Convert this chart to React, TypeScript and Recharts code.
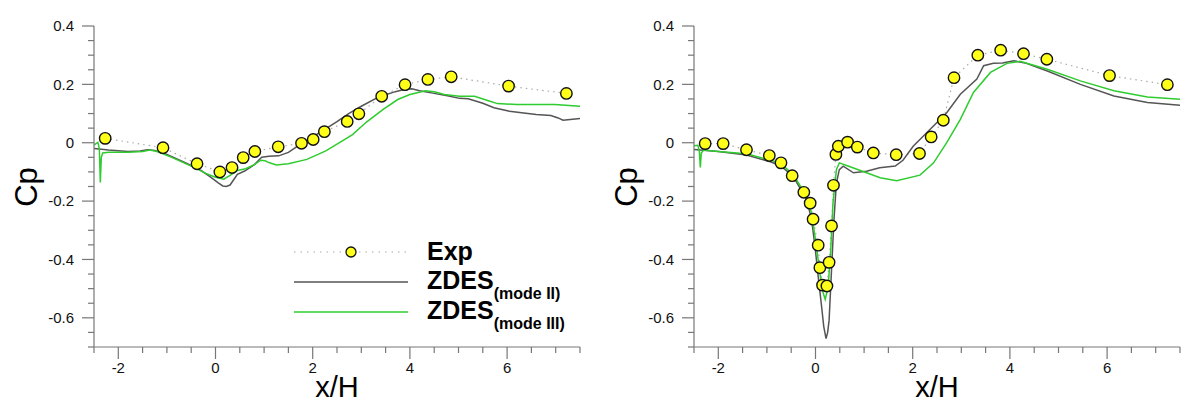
import React from 'react';
import { ComposedChart, Line, Scatter, XAxis, YAxis, Legend } from 'recharts';

const FONT = '"Liberation Sans", Arial, Helvetica, sans-serif';
const AXIS = '#777';
const GRAY = '#555';
const GREEN = '#2ecc2e';

// left panel
const leftExpX = [-2.27, -1.08, -0.38, 0.09, 0.34, 0.57, 0.81, 1.29, 1.77, 2.01, 2.24, 2.71, 2.95, 3.42, 3.9, 4.37, 4.85, 6.03, 7.22];
const leftExpY = [0.015, -0.017, -0.072, -0.1, -0.085, -0.051, -0.03, -0.014, -0.002, 0.011, 0.038, 0.073, 0.099, 0.159, 0.199, 0.217, 0.226, 0.194, 0.169];

const leftMode2X = [-2.5, -2.2, -1.8, -1.55, -1.4, -1.25, -1.0, -0.6, -0.3, -0.1, 0.05, 0.15, 0.22, 0.3, 0.45, 0.6, 0.8, 0.95, 1.1, 1.3, 1.5, 1.72, 2.0, 2.24, 2.5, 2.74, 3.0, 3.36, 3.7, 3.9, 4.04, 4.2, 4.47, 4.8, 5.02, 5.2, 5.5, 5.73, 6.05, 6.3, 6.6, 6.9, 7.05, 7.15, 7.3, 7.5];
const leftMode2Y = [-0.02, -0.025, -0.03, -0.028, -0.024, -0.027, -0.04, -0.07, -0.095, -0.118, -0.137, -0.148, -0.15, -0.145, -0.108, -0.097, -0.075, -0.05, -0.046, -0.045, -0.033, -0.008, 0.02, 0.045, 0.072, 0.1, 0.125, 0.157, 0.175, 0.183, 0.185, 0.178, 0.17, 0.16, 0.152, 0.151, 0.135, 0.12, 0.108, 0.103, 0.097, 0.093, 0.085, 0.077, 0.08, 0.083];

const leftMode3X = [-2.5, -2.46, -2.42, -2.39, -2.37, -2.35, -2.32, -2.2, -1.8, -1.5, -1.35, -1.2, -0.9, -0.5, -0.2, 0.0, 0.17, 0.3, 0.45, 0.62, 0.8, 0.93, 1.02, 1.1, 1.25, 1.5, 1.88, 2.27, 2.5, 2.82, 3.1, 3.45, 3.75, 4.0, 4.32, 4.5, 4.71, 5.02, 5.33, 5.6, 5.8, 6.2, 6.98, 7.5];
const leftMode3Y = [-0.008, -0.003, 0.001, -0.02, -0.136, -0.05, -0.035, -0.033, -0.033, -0.03, -0.025, -0.03, -0.05, -0.08, -0.105, -0.118, -0.125, -0.112, -0.095, -0.089, -0.075, -0.06, -0.062, -0.068, -0.076, -0.072, -0.057, -0.028, -0.005, 0.028, 0.07, 0.114, 0.148, 0.165, 0.178, 0.175, 0.165, 0.159, 0.159, 0.145, 0.134, 0.131, 0.131, 0.125];

// right panel
const rightExpX = [-2.27, -1.9, -1.42, -0.95, -0.71, -0.48, -0.24, -0.11, -0.05, 0.055, 0.09, 0.145, 0.235, 0.28, 0.33, 0.37, 0.42, 0.47, 0.66, 0.86, 1.19, 1.66, 2.14, 2.38, 2.63, 2.85, 3.34, 3.81, 4.28, 4.76, 6.05, 7.24];
const rightExpY = [-0.003, -0.003, -0.024, -0.044, -0.069, -0.113, -0.17, -0.207, -0.262, -0.351, -0.428, -0.488, -0.491, -0.41, -0.285, -0.146, -0.04, -0.012, 0.002, -0.015, -0.035, -0.041, -0.037, 0.02, 0.077, 0.223, 0.3, 0.317, 0.305, 0.286, 0.23, 0.199];

const rightMode2X = [-2.5, -2.0, -1.42, -0.93, -0.73, -0.46, -0.18, -0.08, -0.01, 0.056, 0.126, 0.17, 0.217, 0.25, 0.28, 0.33, 0.38, 0.43, 0.49, 0.57, 0.78, 1.05, 1.32, 1.64, 1.8, 2.01, 2.36, 2.7, 2.98, 3.32, 3.46, 3.66, 3.85, 4.08, 4.34, 4.77, 5.45, 6.14, 6.83, 7.5];
const rightMode2Y = [-0.023, -0.03, -0.042, -0.065, -0.078, -0.115, -0.195, -0.264, -0.356, -0.459, -0.562, -0.63, -0.671, -0.65, -0.608, -0.436, -0.264, -0.138, -0.092, -0.08, -0.103, -0.098, -0.086, -0.08, -0.06, -0.012, 0.046, 0.103, 0.166, 0.218, 0.264, 0.272, 0.273, 0.281, 0.272, 0.246, 0.2, 0.16, 0.138, 0.128];

const rightMode3X = [-2.5, -2.42, -2.39, -2.37, -2.35, -2.3, -2.0, -1.42, -0.93, -0.73, -0.46, -0.18, -0.08, 0.02, 0.09, 0.16, 0.2, 0.26, 0.31, 0.36, 0.43, 0.49, 0.64, 1.05, 1.33, 1.67, 2.15, 2.43, 2.7, 2.98, 3.25, 3.6, 3.94, 4.21, 4.77, 5.45, 6.14, 6.83, 7.5];
const rightMode3Y = [-0.01, -0.009, -0.03, -0.085, -0.035, -0.025, -0.03, -0.038, -0.06, -0.069, -0.109, -0.184, -0.241, -0.356, -0.448, -0.516, -0.537, -0.494, -0.379, -0.207, -0.092, -0.069, -0.078, -0.103, -0.12, -0.13, -0.111, -0.069, 0.0, 0.08, 0.172, 0.241, 0.272, 0.279, 0.252, 0.212, 0.178, 0.157, 0.149];

// axes
const xMajorTicks = [-2, 0, 2, 4, 6];
const xMinorTicks = [-2.5, -1.5, -1, -0.5, 0.5, 1, 1.5, 2.5, 3, 3.5, 4.5, 5, 5.5, 6.5, 7, 7.5];
const yMajorTicks = [-0.6, -0.4, -0.2, 0, 0.2, 0.4];
const yMinorTicks = [-0.7, -0.65, -0.55, -0.5, -0.45, -0.35, -0.3, -0.25, -0.15, -0.1, -0.05, 0.05, 0.1, 0.15, 0.25, 0.3, 0.35];

const seriesNames = ['Exp', 'ZDES', 'ZDES'];
const seriesSubs = ['', '(mode II)', '(mode III)'];

const xTicks = [...xMajorTicks, ...xMinorTicks].sort((a, b) => a - b);
const yTicks = [...yMajorTicks, ...yMinorTicks].sort((a, b) => a - b);

const zip = (xs: number[], ys: number[]) => xs.map((x, i) => ({ x, y: ys[i] }));

const isMajor = (list: number[], v: number) => list.some((m) => Math.abs(m - v) < 1e-6);

function XTick(props: any) {
  const { x, y, payload, side } = props;
  const v = payload.value;
  const major = isMajor(xMajorTicks, v);
  const len = major ? 12 : 6;
  const dir = side === 'top' ? -1 : 1;
  return (
    <g>
      <line x1={x} x2={x} y1={y} y2={y + dir * len} stroke={AXIS} strokeWidth={1.2} />
      {side === 'bottom' && major && (
        <text x={x} y={y + 15} dy="0.71em" textAnchor="middle" fontFamily={FONT} fontSize={15} fill="#111">
          {String(v)}
        </text>
      )}
    </g>
  );
}

function YTick(props: any) {
  const { x, y, payload, side } = props;
  const v = payload.value;
  const major = isMajor(yMajorTicks, v);
  const len = major ? 12 : 6;
  const dir = side === 'right' ? 1 : -1;
  return (
    <g>
      <line x1={x} x2={x + dir * len} y1={y} y2={y} stroke={AXIS} strokeWidth={1.2} />
      {side === 'left' && major && (
        <text x={x - 20} y={y} dy="0.36em" textAnchor="end" fontFamily={FONT} fontSize={15} fill="#111">
          {Math.abs(v) < 1e-9 ? '0' : v.toFixed(1)}
        </text>
      )}
    </g>
  );
}

function XTitle() {
  return (
    <text x={337} y={396.5} textAnchor="middle" fontFamily={FONT} fontSize={29} fill="#000">
      x/H
    </text>
  );
}

function YTitle() {
  return (
    <text x={37} y={187} textAnchor="middle" fontFamily={FONT} fontSize={31} fill="#000" transform="rotate(-90, 37, 187)">
      Cp
    </text>
  );
}

function ExpDot(props: any) {
  const { cx, cy } = props;
  return <circle cx={cx} cy={cy} r={5.7} fill="#ffff1a" stroke="#111" strokeWidth={1.4} />;
}

function LegendContent() {
  return (
    <div style={{ fontFamily: FONT, color: '#000' }}>
      {seriesNames.map((name, i) => (
        <div key={i} style={{ display: 'flex', alignItems: 'center', height: 30.3 }}>
          <svg width={114} height={20}>
            {i === 0 ? (
              <g>
                <line x1={0} x2={114} y1={10} y2={10} stroke="#aaa" strokeWidth={1.2} strokeDasharray="1.5 5" />
                <circle cx={57} cy={10} r={5} fill="#ffff1a" stroke="#111" strokeWidth={1.3} />
              </g>
            ) : (
              <line x1={0} x2={114} y1={10} y2={10} stroke={i === 1 ? GRAY : GREEN} strokeWidth={1.6} />
            )}
          </svg>
          <span style={{ marginLeft: 19, fontSize: 25, fontWeight: 700, lineHeight: '25px', whiteSpace: 'nowrap' }}>
            {name}
            {seriesSubs[i] && (
              <span style={{ fontSize: 16, position: 'relative', top: 10 }}>{seriesSubs[i]}</span>
            )}
          </span>
        </div>
      ))}
    </div>
  );
}

interface PanelProps {
  width: number;
  exp: { x: number; y: number }[];
  mode2: { x: number; y: number }[];
  mode3: { x: number; y: number }[];
  legend?: boolean;
}

function Panel({ width, exp, mode2, mode3, legend }: PanelProps) {
  const axisLine = { stroke: AXIS, strokeWidth: 1.2 };
  return (
    <ComposedChart width={width} height={403} margin={{ top: 26, right: width - 94 - 486, bottom: 0, left: 0 }}>
      <XAxis
        xAxisId="b"
        dataKey="x"
        type="number"
        domain={[-2.5, 7.5]}
        ticks={xTicks}
        interval={0}
        height={56}
        tickSize={0}
        tickMargin={0}
        tickLine={false}
        axisLine={axisLine}
        tick={<XTick side="bottom" />}
        label={<XTitle />}
        allowDataOverflow
      />
      <XAxis
        xAxisId="t"
        orientation="top"
        type="number"
        domain={[-2.5, 7.5]}
        ticks={xTicks}
        interval={0}
        height={0}
        tickSize={0}
        tickMargin={0}
        tickLine={false}
        axisLine={axisLine}
        tick={<XTick side="top" />}
        allowDataOverflow
      />
      <YAxis
        yAxisId="l"
        dataKey="y"
        type="number"
        domain={[-0.7, 0.4]}
        ticks={yTicks}
        interval={0}
        width={94}
        tickSize={0}
        tickMargin={0}
        tickLine={false}
        axisLine={axisLine}
        tick={<YTick side="left" />}
        label={<YTitle />}
        allowDataOverflow
      />
      <YAxis
        yAxisId="r"
        orientation="right"
        type="number"
        domain={[-0.7, 0.4]}
        ticks={yTicks}
        interval={0}
        width={0}
        tickSize={0}
        tickMargin={0}
        tickLine={false}
        axisLine={axisLine}
        tick={<YTick side="right" />}
        allowDataOverflow
      />
      <Line xAxisId="b" yAxisId="l" data={exp} dataKey="y" type="linear" stroke="#aaa" strokeWidth={1.2} strokeDasharray="1.5 4" dot={false} activeDot={false} isAnimationActive={false} />
      <Line xAxisId="b" yAxisId="l" data={mode2} dataKey="y" type="linear" stroke={GRAY} strokeWidth={1.5} dot={false} activeDot={false} isAnimationActive={false} />
      <Line xAxisId="b" yAxisId="l" data={mode3} dataKey="y" type="linear" stroke={GREEN} strokeWidth={1.5} dot={false} activeDot={false} isAnimationActive={false} />
      <Scatter xAxisId="b" yAxisId="l" data={exp} dataKey="y" shape={ExpDot} isAnimationActive={false} />
      {legend && (
        <Legend
          layout="vertical"
          verticalAlign="middle"
          align="center"
          wrapperStyle={{ left: 294, top: 236.5, width: 'auto' }}
          content={<LegendContent />}
        />
      )}
    </ComposedChart>
  );
}

export default function App() {
  return (
    <div style={{ position: 'absolute', left: 0, top: 0, width: 1181, height: 403, background: '#fff', overflow: 'hidden' }}>
      <div style={{ position: 'absolute', left: 0, top: 0 }}>
        <Panel width={600} exp={zip(leftExpX, leftExpY)} mode2={zip(leftMode2X, leftMode2Y)} mode3={zip(leftMode3X, leftMode3Y)} legend />
      </div>
      <div style={{ position: 'absolute', left: 600, top: 0 }}>
        <Panel width={581} exp={zip(rightExpX, rightExpY)} mode2={zip(rightMode2X, rightMode2Y)} mode3={zip(rightMode3X, rightMode3Y)} />
      </div>
    </div>
  );
}
